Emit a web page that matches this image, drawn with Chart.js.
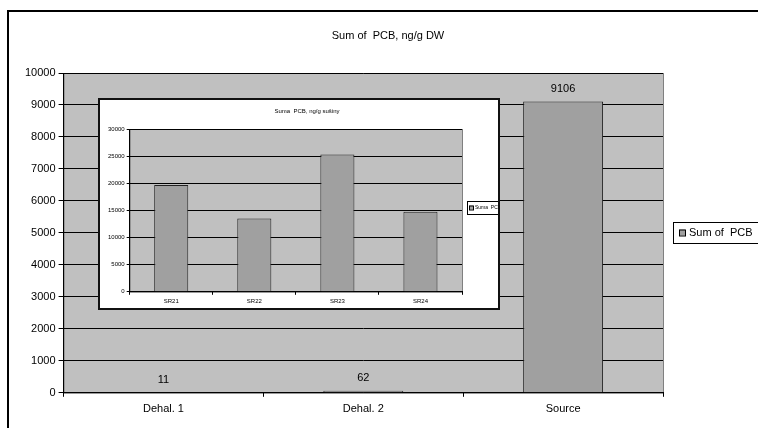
<!DOCTYPE html>
<html>
<head>
<meta charset="utf-8">
<script src="https://cdn.jsdelivr.net/npm/chart.js@4"></script>
<style>
  body { margin: 0; background: #fff; overflow: hidden; }
  #wrap { position: relative; width: 758px; height: 428px; overflow: hidden; }
  #frame { position: absolute; left: 7px; top: 10px; width: 900px; height: 600px; border: 2px solid #000; box-sizing: border-box; pointer-events: none; }
  #mainChart { position: absolute; left: 0; top: 0; }
  #insetBox { position: absolute; left: 98px; top: 98px; width: 402px; height: 212px; background: #fff; border: 2px solid #111; box-sizing: border-box; overflow: hidden; }
  #insetChart { position: absolute; left: 0; top: 0; }
</style>
</head>
<body>
<div id="wrap">
  <canvas id="mainChart" width="758" height="428"></canvas>
  <div id="frame"></div>
  <div id="insetBox"><canvas id="insetChart" width="398" height="208"></canvas></div>
</div>
<script>
const categories = ['Dehal. 1', 'Dehal. 2', 'Source'];
const sumPcb = [11, 62, 9106];
const mainTitle = 'Sum of  PCB, ng/g DW';
const mainLegend = 'Sum of  PCB';

const insetCategories = ['SR21', 'SR22', 'SR23', 'SR24'];
const sumaPcb = [19700, 13500, 25300, 14750];
const insetTitle = 'Suma  PCB, ng/g sušiny';
const insetLegend = 'Suma  PCB';

const FONT = "'Liberation Sans', Arial, sans-serif";

// gray plot area like the old Excel charts
const plotBackground = {
    id: 'plotBackground',
    beforeDraw(chart) {
        const a = chart.chartArea;
        const ctx = chart.ctx;
        ctx.save();
        ctx.fillStyle = '#c0c0c0';
        ctx.fillRect(a.left, a.top, a.right - a.left, a.bottom - a.top);
        ctx.strokeStyle = '#808080';
        ctx.lineWidth = 1;
        ctx.strokeRect(a.left + 0.5, a.top + 0.5, a.right - a.left, a.bottom - a.top);
        ctx.restore();
    }
};

function titleAndLegend(opts) {
    return {
        id: 'titleAndLegend',
        afterDraw(chart) {
            const ctx = chart.ctx;
            ctx.save();
            ctx.fillStyle = '#000';
            ctx.font = opts.size + 'px ' + FONT;
            ctx.textAlign = 'center';
            ctx.textBaseline = 'middle';
            ctx.fillText(opts.title, opts.titleX, opts.titleY);

            const b = opts.box;
            ctx.fillStyle = '#fff';
            ctx.fillRect(b.x, b.y, b.w, b.h);
            ctx.strokeStyle = '#000';
            ctx.lineWidth = 1;
            ctx.strokeRect(b.x + 0.5, b.y + 0.5, b.w, b.h);
            const m = opts.marker;
            const my = b.y + b.h / 2 - m / 2;
            ctx.fillStyle = '#a0a0a0';
            ctx.fillRect(b.x + opts.pad, my, m, m);
            ctx.strokeRect(b.x + opts.pad + 0.5, my + 0.5, m, m);
            ctx.fillStyle = '#000';
            ctx.textAlign = 'left';
            ctx.font = (opts.legendSize || opts.size) + 'px ' + FONT;
            ctx.fillText(opts.legend, b.x + opts.pad + m + opts.gap, b.y + b.h / 2 + 0.5);
            ctx.restore();
        }
    };
}

const valueLabels = {
    id: 'valueLabels',
    afterDatasetsDraw(chart) {
        const ctx = chart.ctx;
        const meta = chart.getDatasetMeta(0);
        const data = chart.data.datasets[0].data;
        ctx.save();
        ctx.fillStyle = '#000';
        ctx.font = '11px ' + FONT;
        ctx.textAlign = 'center';
        ctx.textBaseline = 'bottom';
        meta.data.forEach(function (bar, i) {
            ctx.fillText(String(data[i]), bar.x, bar.y - 7);
        });
        ctx.restore();
    }
};

const plainNumber = function (v) { return String(v); };

new Chart(document.getElementById('mainChart').getContext('2d'), {
    type: 'bar',
    data: {
        labels: categories,
        datasets: [{
            label: mainLegend,
            data: sumPcb,
            backgroundColor: '#a0a0a0',
            borderColor: '#222',
            borderWidth: 1,
            barPercentage: 0.4,
            categoryPercentage: 1
        }]
    },
    options: {
        responsive: false,
        devicePixelRatio: 1,
        animation: false,
        layout: { padding: { left: 22, top: 73, right: 95, bottom: 6 } },
        plugins: {
            legend: { display: false },
            title: { display: false },
            tooltip: { enabled: false }
        },
        scales: {
            x: {
                offset: true,
                grid: { drawOnChartArea: false, color: '#000', tickLength: 4 },
                border: { color: '#000', width: 1 },
                ticks: { color: '#000', font: { family: FONT, size: 11 }, padding: 6 }
            },
            y: {
                min: 0,
                max: 10000,
                grid: { color: '#000', tickLength: 5 },
                border: { color: '#000', width: 1 },
                ticks: { stepSize: 1000, color: '#000', font: { family: FONT, size: 11 }, padding: 3, callback: plainNumber }
            }
        }
    },
    plugins: [plotBackground, valueLabels, titleAndLegend({
        title: mainTitle, titleX: 388, titleY: 36, size: 11,
        legend: mainLegend, box: { x: 673, y: 222, w: 95, h: 21 }, marker: 6, pad: 6, gap: 4
    })]
});

new Chart(document.getElementById('insetChart').getContext('2d'), {
    type: 'bar',
    data: {
        labels: insetCategories,
        datasets: [{
            label: insetLegend,
            data: sumaPcb,
            backgroundColor: '#a0a0a0',
            borderColor: '#222',
            borderWidth: 1,
            barPercentage: 0.41,
            categoryPercentage: 1
        }]
    },
    options: {
        responsive: false,
        devicePixelRatio: 1,
        animation: false,
        layout: { padding: { left: 6, top: 29, right: 36, bottom: 0 } },
        plugins: {
            legend: { display: false },
            title: { display: false },
            tooltip: { enabled: false }
        },
        scales: {
            x: {
                offset: true,
                grid: { drawOnChartArea: false, color: '#000', tickLength: 3 },
                border: { color: '#000', width: 1 },
                ticks: { color: '#000', font: { family: FONT, size: 6 }, padding: 3 }
            },
            y: {
                min: 0,
                max: 30000,
                grid: { color: '#000', tickLength: 3 },
                border: { color: '#000', width: 1 },
                ticks: { stepSize: 5000, color: '#000', font: { family: FONT, size: 6 }, padding: 2, callback: plainNumber }
            }
        }
    },
    plugins: [plotBackground, titleAndLegend({
        title: insetTitle, titleX: 207, titleY: 11, size: 6, legendSize: 5,
        legend: insetLegend, box: { x: 367, y: 101, w: 40, h: 13 }, marker: 4, pad: 2, gap: 2
    })]
});
</script>
</body>
</html>
